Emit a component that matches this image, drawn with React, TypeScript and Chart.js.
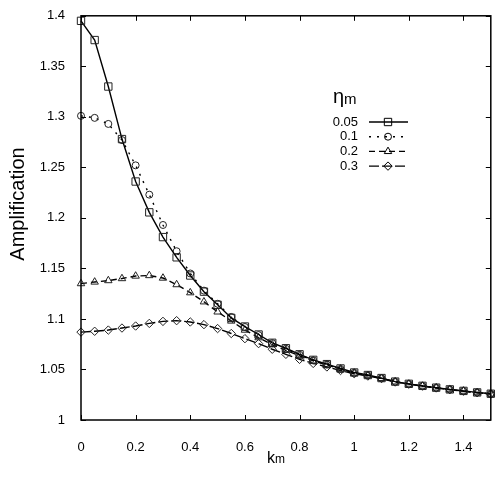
import { useEffect, useRef } from "react";
import { Chart, registerables } from "chart.js";

Chart.register(...registerables);

// k_m sample points
const kValues = [
  0, 0.05, 0.1, 0.15, 0.2, 0.25, 0.3, 0.35, 0.4, 0.45, 0.5, 0.55, 0.6, 0.65, 0.7, 0.75,
  0.8, 0.85, 0.9, 0.95, 1.0, 1.05, 1.1, 1.15, 1.2, 1.25, 1.3, 1.35, 1.4, 1.45, 1.5,
];

// amplification for each eta_m
const eta005 = [
  1.395, 1.376, 1.33, 1.278, 1.236, 1.2055, 1.181, 1.161, 1.143, 1.127, 1.114, 1.101,
  1.0925, 1.0846, 1.0764, 1.071, 1.065, 1.0595, 1.0553, 1.051, 1.047, 1.0445, 1.0415,
  1.038, 1.0358, 1.0338, 1.032, 1.0303, 1.0288, 1.0273, 1.026,
];
const eta01 = [
  1.301, 1.299, 1.293, 1.277, 1.252, 1.223, 1.193, 1.167, 1.145, 1.128, 1.115, 1.102,
  1.092, 1.084, 1.076, 1.0705, 1.0645, 1.059, 1.055, 1.0505, 1.0467, 1.0442, 1.0413,
  1.0379, 1.0357, 1.0337, 1.0319, 1.0302, 1.0287, 1.0272, 1.0259,
];
const eta02 = [
  1.135, 1.1366, 1.138, 1.14, 1.1425, 1.143, 1.1405, 1.134, 1.126, 1.117, 1.107, 1.098,
  1.089, 1.0815, 1.0745, 1.069, 1.0635, 1.0585, 1.0545, 1.0505, 1.0465, 1.044, 1.0412,
  1.0378, 1.0356, 1.0336, 1.0318, 1.0301, 1.0286, 1.0271, 1.0258,
];
const eta03 = [
  1.087, 1.0878, 1.089, 1.091, 1.093, 1.0956, 1.0976, 1.0983, 1.097, 1.0944, 1.0905,
  1.0856, 1.0805, 1.0756, 1.07, 1.065, 1.06, 1.056, 1.0525, 1.049, 1.0458, 1.0435,
  1.041, 1.0376, 1.0355, 1.0335, 1.0317, 1.03, 1.0285, 1.027, 1.0257,
];

const seriesLabels = ["0.05", "0.1", "0.2", "0.3"];
const xTickValues = [0, 0.2, 0.4, 0.6, 0.8, 1, 1.2, 1.4];
const yTickValues = [1, 1.05, 1.1, 1.15, 1.2, 1.25, 1.3, 1.35, 1.4];

const FONT = "'Liberation Sans', Arial, Helvetica, sans-serif";
const series = [eta005, eta01, eta02, eta03];
const markerStyles = ["rect", "circle", "triangle", "rectRot"];
const markerRadius = [5.2, 3.5, 4.3, 4.2];
const dashes = [[], [2, 6], [6, 4], [10, 3]];

const fmt = (v: number) => String(Math.round(v * 100) / 100);

function drawMarker(ctx: CanvasRenderingContext2D, style: string, x: number, y: number, r: number) {
  ctx.beginPath();
  if (style === "rect") {
    const s = Math.SQRT1_2 * r;
    ctx.rect(x - s, y - s, 2 * s, 2 * s);
  } else if (style === "circle") {
    ctx.arc(x, y, r, 0, Math.PI * 2);
  } else if (style === "triangle") {
    ctx.moveTo(x, y - r);
    ctx.lineTo(x + r * 0.866, y + r * 0.5);
    ctx.lineTo(x - r * 0.866, y + r * 0.5);
    ctx.closePath();
  } else {
    ctx.moveTo(x, y - r);
    ctx.lineTo(x + r, y);
    ctx.lineTo(x, y + r);
    ctx.lineTo(x - r, y);
    ctx.closePath();
  }
  ctx.stroke();
}

const decorPlugin = {
  id: "decor",
  afterDraw(chart: any) {
    const { ctx, chartArea: a, scales } = chart;
    const xs = scales.x;
    const ys = scales.y;
    ctx.save();
    ctx.strokeStyle = "#000";
    ctx.lineWidth = 1.5;
    ctx.setLineDash([]);
    ctx.strokeRect(a.left, a.top, a.right - a.left, a.bottom - a.top);
    // inward ticks on all four sides
    ctx.lineWidth = 1;
    ctx.beginPath();
    xTickValues.forEach((v) => {
      const px = Math.round(xs.getPixelForValue(v)) + 0.5;
      ctx.moveTo(px, a.bottom);
      ctx.lineTo(px, a.bottom - 5);
      ctx.moveTo(px, a.top);
      ctx.lineTo(px, a.top + 5);
    });
    yTickValues.forEach((v) => {
      const py = Math.round(ys.getPixelForValue(v)) + 0.5;
      ctx.moveTo(a.left, py);
      ctx.lineTo(a.left + 5, py);
      ctx.moveTo(a.right, py);
      ctx.lineTo(a.right - 5, py);
    });
    ctx.stroke();

    ctx.fillStyle = "#000";
    // y title
    ctx.save();
    ctx.translate(18, 204);
    ctx.rotate(-Math.PI / 2);
    ctx.font = `20px ${FONT}`;
    ctx.textAlign = "center";
    ctx.textBaseline = "middle";
    ctx.fillText("Amplification", 0, 0);
    ctx.restore();

    // x title k_m
    ctx.textBaseline = "alphabetic";
    ctx.textAlign = "left";
    ctx.font = `16px ${FONT}`;
    ctx.fillText("k", 267, 463);
    const kw = ctx.measureText("k").width;
    ctx.font = `12px ${FONT}`;
    ctx.fillText("m", 267 + kw, 463);

    // legend title eta_m
    ctx.font = `20px ${FONT}`;
    ctx.fillText("\u03b7", 333, 103);
    const ew = ctx.measureText("\u03b7").width;
    ctx.font = `15px ${FONT}`;
    ctx.fillText("m", 333 + ew, 104);

    // legend entries
    ctx.font = `13px ${FONT}`;
    ctx.textAlign = "right";
    ctx.textBaseline = "middle";
    seriesLabels.forEach((lab, i) => {
      const y = 122 + i * 14.7;
      ctx.fillText(lab, 358, y);
      ctx.lineWidth = 1.4;
      ctx.setLineDash(dashes[i]);
      ctx.beginPath();
      ctx.moveTo(369, y);
      ctx.lineTo(408, y);
      ctx.stroke();
      ctx.setLineDash([]);
      ctx.lineWidth = 1;
      drawMarker(ctx, markerStyles[i], 388, y, markerRadius[i]);
    });
    ctx.restore();
  },
};

export default function App() {
  const canvasRef = useRef<HTMLCanvasElement>(null);

  useEffect(() => {
    if (!canvasRef.current) return;
    Chart.defaults.font.family = FONT;
    const chart = new Chart(canvasRef.current, {
      type: "line",
      data: {
        datasets: series.map((vals, i) => ({
          label: seriesLabels[i],
          data: kValues.map((k, j) => ({ x: k, y: vals[j] })),
          borderColor: "#000",
          borderWidth: 1.4,
          borderDash: dashes[i],
          backgroundColor: "transparent",
          pointStyle: markerStyles[i] as any,
          pointRadius: markerRadius[i],
          pointBorderWidth: 1,
          pointBorderColor: "#222",
          pointBackgroundColor: "transparent",
          tension: 0,
          clip: false as any,
        })),
      },
      options: {
        responsive: false,
        animation: false,
        layout: { padding: { left: 0, top: 10, right: 5, bottom: 0 } },
        plugins: { legend: { display: false }, tooltip: { enabled: false } },
        scales: {
          x: {
            type: "linear",
            min: 0,
            max: 1.5,
            afterBuildTicks: (s: any) => {
              s.ticks = xTickValues.map((v) => ({ value: v }));
            },
            afterFit: (s: any) => {
              s.height = 58;
            },
            grid: { display: false },
            border: { display: false },
            ticks: {
              color: "#000",
              font: { size: 13, family: FONT },
              padding: 12,
              maxRotation: 0,
              callback: (v: any) => fmt(Number(v)),
            },
          },
          y: {
            type: "linear",
            min: 1,
            max: 1.4,
            afterBuildTicks: (s: any) => {
              s.ticks = yTickValues.map((v) => ({ value: v }));
            },
            afterFit: (s: any) => {
              s.width = 81;
            },
            grid: { display: false },
            border: { display: false },
            ticks: {
              color: "#000",
              font: { size: 13, family: FONT },
              padding: 8,
              callback: (v: any) => fmt(Number(v)),
            },
          },
        },
      },
      plugins: [decorPlugin],
    });
    return () => chart.destroy();
  }, []);

  return (
    <canvas
      ref={canvasRef}
      width={497}
      height={478}
      style={{ position: "absolute", left: 0, top: 0, background: "#fff" }}
    />
  );
}
